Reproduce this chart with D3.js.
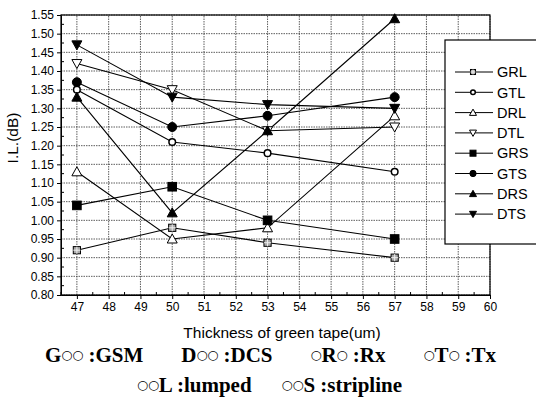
<!DOCTYPE html>
<html>
<head>
<meta charset="utf-8">
<script src="https://cdn.jsdelivr.net/npm/d3@7"></script>
<style>
  body { margin: 0; background: #fff; }
  text { font-family: "Liberation Sans", Arial, sans-serif; }
  .note { font-family: "Liberation Serif", "Times New Roman", serif; font-weight: bold; }
  .ring { font-family: "DejaVu Sans", sans-serif; font-weight: normal; }
</style>
</head>
<body>
<div class="chart-container"></div>
<script>
// thickness values (um)
const thickness = [47, 50, 53, 57];

const seriesNames = ["GRL", "GTL", "DRL", "DTL", "GRS", "GTS", "DRS", "DTS"];
const GRL = [0.92, 0.98, 0.94, 0.90];
const GTL = [1.35, 1.21, 1.18, 1.13];
const DRL = [1.13, 0.95, 0.98, 1.28];
const DTL = [1.42, 1.35, 1.24, 1.25];
const GRS = [1.04, 1.09, 1.00, 0.95];
const GTS = [1.37, 1.25, 1.28, 1.33];
const DRS = [1.33, 1.02, 1.24, 1.54];
const DTS = [1.47, 1.33, 1.31, 1.30];

const xTicks = d3.range(47, 61);
const yTicks = d3.range(0.80, 1.5501, 0.05);

const seriesValues = [GRL, GTL, DRL, DTL, GRS, GTS, DRS, DTS];
// marker shape / filled per series
const markerShape = ["squareX", "circle", "up", "down", "square", "circle", "up", "down"];
const markerFilled = [false, false, false, false, true, true, true, true];

const w = 536;
const h = 404;
const margin = { top: 15, bottom: 109, left: 61, right: 46 };

const svg = d3.select(".chart-container")
  .append("svg")
  .attr("width", w)
  .attr("height", h);

const x = d3.scaleLinear()
  .domain([46.5, 60])
  .range([margin.left, w - margin.right]);

const y = d3.scaleLinear()
  .domain([0.80, 1.55])
  .range([h - margin.bottom, margin.top]);

// grid
svg.append("g")
  .selectAll("line")
  .data(xTicks)
  .enter().append("line")
  .attr("x1", d => x(d)).attr("x2", d => x(d))
  .attr("y1", y(0.80)).attr("y2", y(1.55))
  .attr("stroke", "#333")
  .attr("stroke-width", 0.8)
  .attr("stroke-dasharray", "1.5,1");

svg.append("g")
  .selectAll("line")
  .data(yTicks)
  .enter().append("line")
  .attr("x1", x(46.5)).attr("x2", x(60))
  .attr("y1", d => y(d)).attr("y2", d => y(d))
  .attr("stroke", "#333")
  .attr("stroke-width", 0.8)
  .attr("stroke-dasharray", "1.5,1");

// axes
const xAxis = svg.append("g")
  .attr("transform", "translate(0," + y(0.80) + ")")
  .call(d3.axisBottom(x).tickValues(xTicks).tickFormat(d3.format("d")).tickSizeOuter(0).tickSizeInner(4).tickPadding(3));
xAxis.selectAll("text").attr("font-size", 12).attr("fill", "#000");

const yAxis = svg.append("g")
  .attr("transform", "translate(" + x(46.5) + ",0)")
  .call(d3.axisLeft(y).tickValues(yTicks).tickFormat(d3.format(".2f")).tickSizeOuter(0).tickSizeInner(4));
yAxis.selectAll("text").attr("font-size", 12).attr("fill", "#000");

// minor ticks
svg.append("g")
  .selectAll("line")
  .data(d3.range(46.5, 60, 1))
  .enter().append("line")
  .attr("x1", d => x(d)).attr("x2", d => x(d))
  .attr("y1", y(0.80)).attr("y2", y(0.80) - 3)
  .attr("stroke", "#000");
svg.append("g")
  .selectAll("line")
  .data(d3.range(0.825, 1.55, 0.05))
  .enter().append("line")
  .attr("x1", x(46.5)).attr("x2", x(46.5) + 3)
  .attr("y1", d => y(d)).attr("y2", d => y(d))
  .attr("stroke", "#000");

// frame
svg.append("rect")
  .attr("x", x(46.5)).attr("y", y(1.55))
  .attr("width", x(60) - x(46.5))
  .attr("height", y(0.80) - y(1.55))
  .attr("fill", "none")
  .attr("stroke", "#000")
  .attr("stroke-width", 1.2);

function drawMarker(g, shape, filled, cx, cy, k) {
  k = k || 1;
  const fill = filled ? "#000" : "#fff";
  if (shape === "circle") {
    g.append("circle").attr("cx", cx).attr("cy", cy).attr("r", (filled ? 4.5 : 3.3) * k)
      .attr("fill", fill).attr("stroke", "#000").attr("stroke-width", filled ? 1 : 1.5);
  } else if (shape === "square" || shape === "squareX") {
    const s = (filled ? 4.3 : 3.6) * k;
    g.append("rect").attr("x", cx - s).attr("y", cy - s).attr("width", 2 * s).attr("height", 2 * s)
      .attr("fill", filled ? "#000" : "#aaa").attr("stroke", "#000").attr("stroke-width", 1);
    if (shape === "squareX") {
      g.append("path")
        .attr("d", "M" + (cx - s) + "," + cy + "H" + (cx + s) + "M" + cx + "," + (cy - s) + "V" + (cy + s))
        .attr("stroke", "#eee").attr("stroke-width", 1);
    }
  } else {
    const s = 5 * k;
    const dir = shape === "up" ? 1 : -1;
    g.append("path")
      .attr("d", "M" + cx + "," + (cy - dir * s) + "L" + (cx + s) + "," + (cy + dir * s * 0.8) +
        "L" + (cx - s) + "," + (cy + dir * s * 0.8) + "Z")
      .attr("fill", fill).attr("stroke", "#000").attr("stroke-width", 1);
  }
}

// series
const line = d3.line()
  .x((d, i) => x(thickness[i]))
  .y(d => y(d));

const plot = svg.append("g").attr("class", "series");
seriesValues.forEach(function(vals, k) {
  plot.append("path")
    .attr("d", line(vals))
    .attr("fill", "none")
    .attr("stroke", "#000")
    .attr("stroke-width", 1.1);
});
seriesValues.forEach(function(vals, k) {
  vals.forEach(function(v, i) {
    drawMarker(plot, markerShape[k], markerFilled[k], x(thickness[i]), y(v));
  });
});

// legend
const legend = svg.append("g").attr("class", "legend");
legend.append("rect")
  .attr("x", 445).attr("y", 40)
  .attr("width", 100).attr("height", 204)
  .attr("fill", "#fff")
  .attr("stroke", "#000")
  .attr("stroke-width", 1.2);

const items = legend.selectAll("g.item")
  .data(seriesNames)
  .enter().append("g")
  .attr("class", "item")
  .attr("transform", (d, i) => "translate(0," + (72 + i * 20.3) + ")");

items.append("line")
  .attr("x1", 455).attr("x2", 493)
  .attr("stroke", "#000")
  .attr("stroke-width", 1);
items.each(function(d, i) {
  drawMarker(d3.select(this), markerShape[i], markerFilled[i], 473, 0, 0.7);
});
items.append("text")
  .attr("x", 497)
  .attr("dy", "0.36em")
  .attr("font-size", 14.5)
  .text(d => d);

// axis titles
svg.append("text")
  .attr("transform", "translate(18,138) rotate(-90)")
  .attr("text-anchor", "middle")
  .attr("font-size", 15.5)
  .text("I.L.(dB)");

svg.append("text")
  .attr("x", 282)
  .attr("y", 338)
  .attr("text-anchor", "middle")
  .attr("font-size", 15.5)
  .text("Thickness of green tape(um)");

// abbreviation notes: [bold prefix, rings, bold suffix]
const noteLines = [
  [["G", "○○", " :GSM"], ["D", "○○", " :DCS"], ["", "○", "R"], ["", "○", " :Rx"], ["", "○", "T"], ["", "○", " :Tx"]],
  [["", "○○", "L :lumped"], ["", "○○", "S :stripline"]]
];
// gap before each part (px)
const noteGaps = [
  [0, 38, 38, 0, 38, 0],
  [0, 30]
];
const noteX = [45, 137];
const noteY = [362, 392];
const ringRise = 3;
noteLines.forEach(function(parts, li) {
  const t = svg.append("text")
    .attr("class", "note")
    .attr("x", noteX[li])
    .attr("y", noteY[li])
    .attr("font-size", 21)
    .attr("xml:space", "preserve");
  parts.forEach(function(p, pi) {
    let first = true;
    if (p[0]) {
      t.append("tspan").attr("dx", noteGaps[li][pi]).text(p[0]);
      first = false;
    }
    t.append("tspan").attr("class", "ring").attr("font-size", 12.5)
      .attr("dx", first ? noteGaps[li][pi] : 0)
      .attr("dy", -ringRise).text(p[1]);
    t.append("tspan").attr("dy", ringRise).text(p[2]);
  });
});
</script>
</body>
</html>
